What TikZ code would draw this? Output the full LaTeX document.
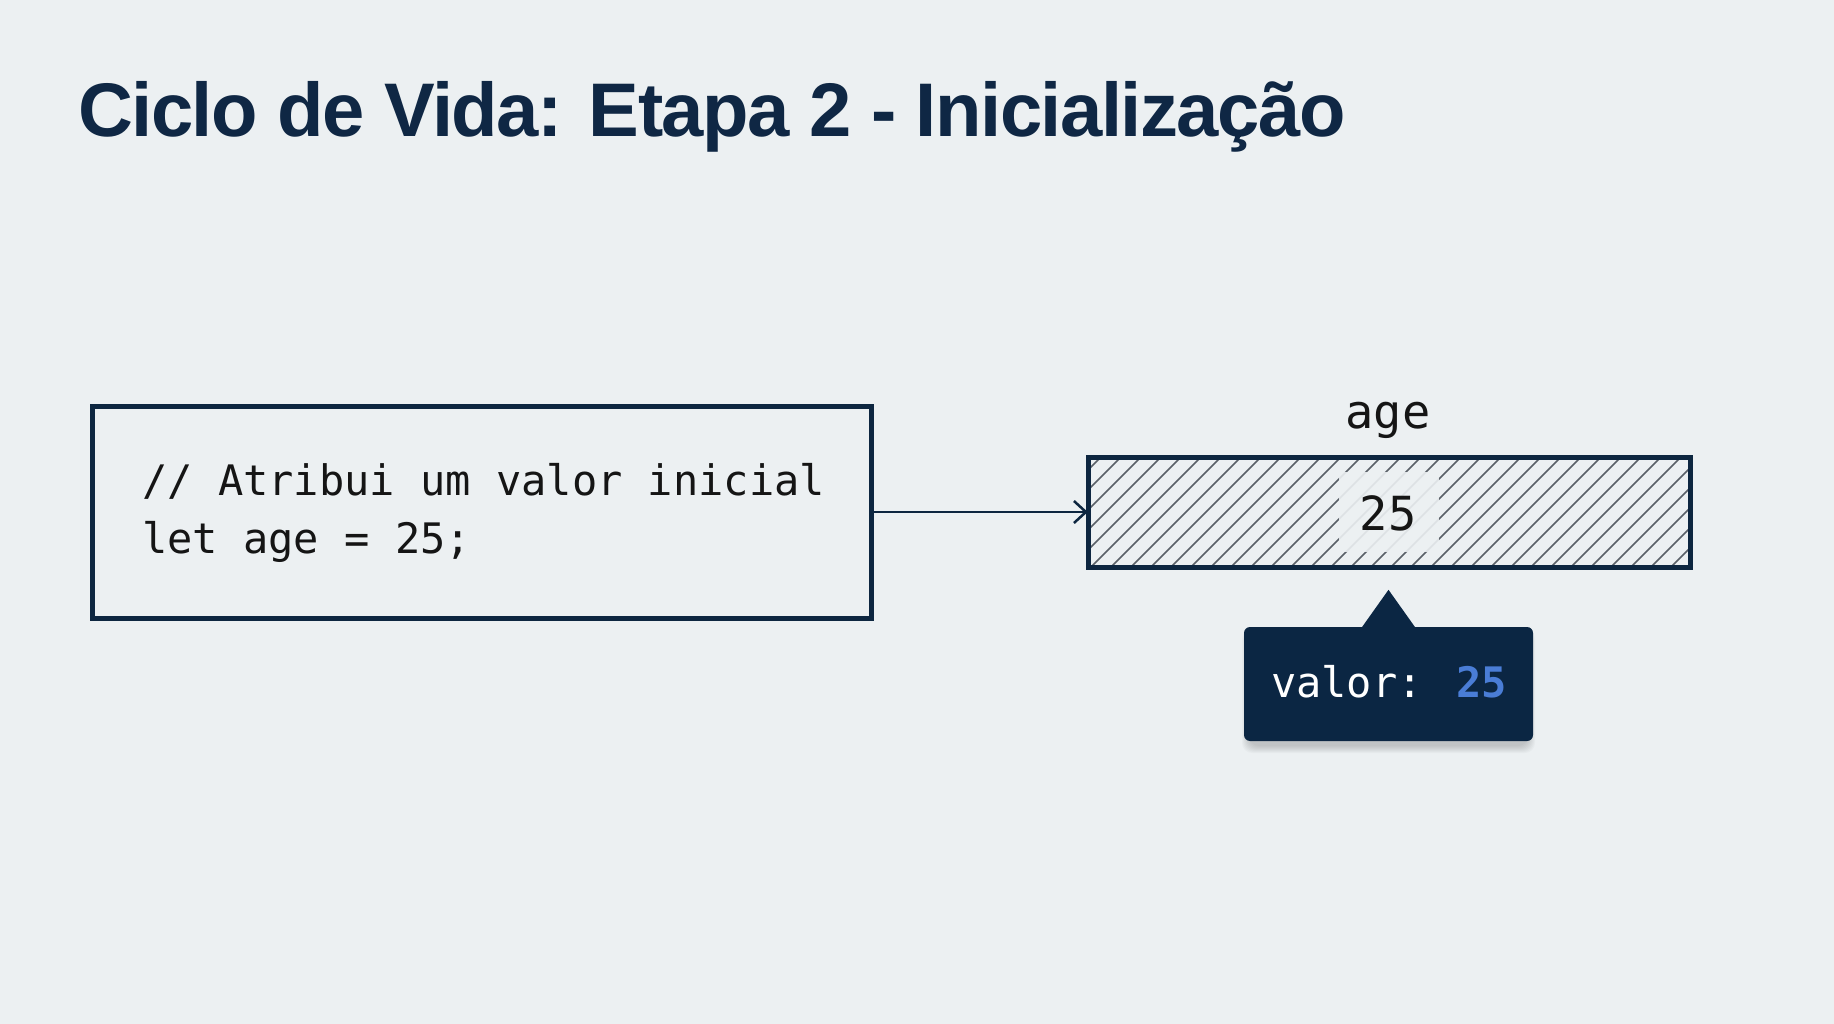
\documentclass[tikz,border=0pt]{standalone}
\usepackage{fontspec}
\setmainfont{Liberation Sans}
\newfontfamily\titlefont[LetterSpace=-2.0]{Liberation Sans}
\newfontfamily\codefont{DejaVu Sans Mono}
\usetikzlibrary{arrows.meta}
\definecolor{bgc}{HTML}{ECF0F2}
\definecolor{navy}{HTML}{0D2640}
\definecolor{titlec}{HTML}{0F2744}
\definecolor{tipc}{HTML}{0B2643}
\definecolor{bluec}{HTML}{4A7DD6}
\definecolor{hatchc}{HTML}{5A6068}
\definecolor{codec}{HTML}{151515}
\begin{document}
\begin{tikzpicture}[x=1pt,y=-1pt,
  outline/.style={draw=navy,line width=5pt,inner sep=0pt,rectangle},
  codetext/.style={font=\codefont\fontsize{42}{50}\selectfont,text=codec,inner sep=0pt},
  bigmono/.style={font=\codefont\fontsize{47}{56}\selectfont,text=codec,inner sep=0pt},
  conn/.style={draw=navy,line width=2.5pt,-{Straight Barb[length=12pt,width=22pt,line width=2.5pt]}},
  hatchline/.style={draw=hatchc,line width=1.6pt}]
\fill[bgc] (0,0) rectangle (1834,1024);
\useasboundingbox (0,0) rectangle (1834,1024);

% title
\node[anchor=base west,inner sep=0pt,text=titlec,font=\titlefont\bfseries\fontsize{76}{90}\selectfont] (title) at (78,137) {Ciclo de Vida: Etapa 2 - Inicialização};

% code box
\node[outline,minimum width=779pt,minimum height=212pt] (codebox) at (481.5,512) {};
\node[codetext,anchor=base west] (code1) at (142,495) {// Atribui um valor inicial};
\node[codetext,anchor=base west] (code2) at (142,553) {let age = 25;};

% memory box
\node[rectangle,inner sep=0pt,minimum width=602pt,minimum height=110pt] (mem) at (1389,512) {};
\begin{scope}
  \clip (mem.south west) rectangle (mem.north east);
  \foreach \i in {0,20,...,760} {
    \draw[hatchline] (1088-130+\i,580) -- ++(140,-140);
  }
\end{scope}
\node[rectangle,fill=bgc,fill opacity=0.9,inner sep=0pt,minimum width=100pt,minimum height=80pt] (patch) at (1388.5,511.5) {};
\node[outline,minimum width=602pt,minimum height=110pt] (memframe) at (mem.center) {};
\node[bigmono,anchor=base] (val) at (1388,530) {25};
\node[bigmono,anchor=base] (agelbl) at (1388,428) {age};

% connector
\draw[conn] (codebox.east) -- (mem.west);

% tooltip shadow (soft, layered)
\foreach \k in {1,...,8} {
  \fill[black,opacity=0.025,rounded corners=10pt]
    (1244+6-\k,627+10-\k) rectangle (1533-6+\k,741+4+\k);
}
% tooltip
\node[rectangle,rounded corners=6pt,fill=tipc,minimum width=289pt,minimum height=114pt,inner sep=0pt] (tip) at (1388.5,684) {};
\fill[tipc] ([xshift=-27pt,yshift=-1pt]tip.north) -- ([yshift=37pt]tip.north) -- ([xshift=27pt,yshift=-1pt]tip.north) -- cycle;
\node[codetext,anchor=base,text=white] (tiptext) at (1389,697) {valor: \textcolor{bluec}{\bfseries 25}};
\end{tikzpicture}
\end{document}
